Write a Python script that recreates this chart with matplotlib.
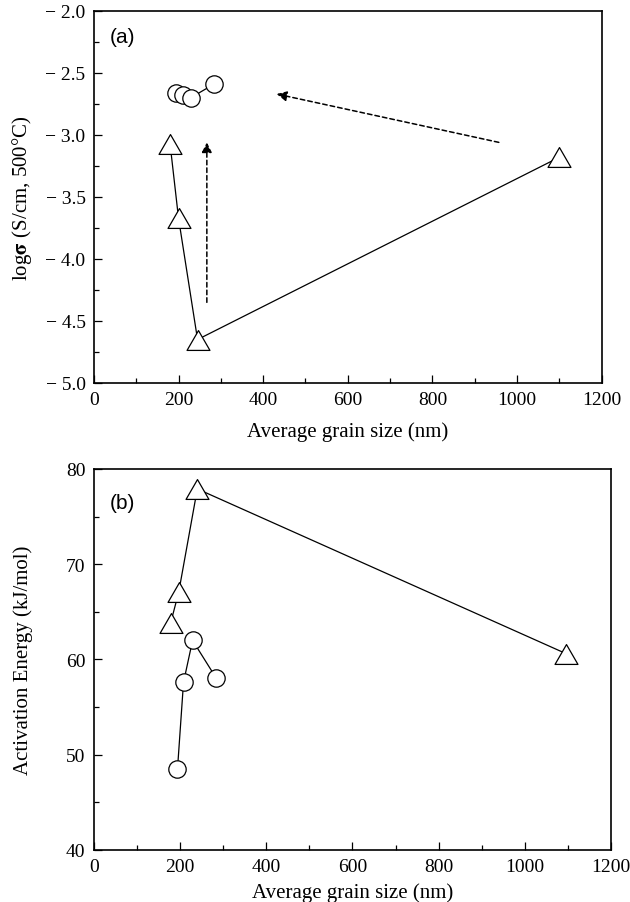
import numpy as np
import matplotlib.pyplot as plt
from matplotlib.path import Path
from matplotlib.ticker import MultipleLocator, FuncFormatter

plt.rcParams['font.family'] = ['Liberation Serif', 'DejaVu Serif']
plt.rcParams['mathtext.fontset'] = 'stix'

# panel (a): log conductivity vs grain size
tri_x_a = [180, 200, 245, 1100]
tri_y_a = [-3.07, -3.67, -4.65, -3.18]
circ_x_a = [194, 210, 229, 284]
circ_y_a = [-2.66, -2.68, -2.70, -2.59]

# panel (b): activation energy vs grain size
tri_x_b = [178, 197, 240, 1096]
tri_y_b = [63.8, 67.1, 77.9, 60.6]
circ_x_b = [194, 208, 229, 283]
circ_y_b = [48.5, 57.6, 62.0, 58.1]

fs = 14
lfs = 15
# equilateral triangle marker (closed)
tri = Path([(-1, -0.866), (1, -0.866), (0, 0.866), (-1, -0.866)],
           [Path.MOVETO, Path.LINETO, Path.LINETO, Path.CLOSEPOLY])

fig = plt.figure(figsize=(6.3, 9.03), dpi=100)
ax1 = fig.add_axes([0.149, 0.5748, 0.806, 0.412])
ax2 = fig.add_axes([0.149, 0.0576, 0.821, 0.422])

def style(ax):
    ax.set_xlim(0, 1200)
    ax.xaxis.set_major_locator(MultipleLocator(200))
    ax.xaxis.set_minor_locator(MultipleLocator(100))
    ax.tick_params(which='both', direction='in', top=False, right=False, labelsize=fs)
    ax.tick_params(which='major', length=6, width=0.9, pad=6)
    ax.tick_params(which='minor', length=3.5, width=0.9)
    for s in ax.spines.values():
        s.set_linewidth(1.2)

def draw(ax, tx, ty, cx, cy):
    ax.plot(tx, ty, '-', color='black', lw=0.9, marker=tri, ms=16.5,
            mfc='white', mec='black', mew=0.9)
    ax.plot(cx, cy, '-', color='black', lw=0.9, marker='o', ms=12.5,
            mfc='white', mec='black', mew=0.9)

# (a)
draw(ax1, tri_x_a, tri_y_a, circ_x_a, circ_y_a)
ax1.set_ylim(-5.0, -2.0)
ax1.yaxis.set_major_locator(MultipleLocator(0.5))
ax1.yaxis.set_minor_locator(MultipleLocator(0.25))
ax1.yaxis.set_major_formatter(FuncFormatter(lambda v, p: '\u2212 %.1f' % abs(v)))
style(ax1)
ax1.set_xlabel('Average grain size (nm)', fontsize=lfs, labelpad=9)
ax1.set_ylabel('log$\\mathbf{\\sigma}$ (S/cm, 500°C)', fontsize=lfs, labelpad=8)
ax1.text(0.032, 0.957, '(a)', transform=ax1.transAxes, fontsize=15,
         family='Liberation Sans', va='top')
arr = dict(arrowstyle='-|>', linestyle=(0, (3, 2)), color='black', lw=1.1,
           mutation_scale=15, shrinkA=0, shrinkB=0)
ax1.annotate('', xy=(267, -3.06), xytext=(267, -4.35), arrowprops=arr)
ax1.annotate('', xy=(432, -2.67), xytext=(957, -3.06), arrowprops=arr)

# (b)
draw(ax2, tri_x_b, tri_y_b, circ_x_b, circ_y_b)
ax2.set_ylim(40, 80)
ax2.yaxis.set_major_locator(MultipleLocator(10))
ax2.yaxis.set_minor_locator(MultipleLocator(5))
style(ax2)
ax2.set_xlabel('Average grain size (nm)', fontsize=lfs, labelpad=5)
ax2.set_ylabel('Activation Energy (kJ/mol)', fontsize=lfs, labelpad=24)
ax2.text(0.031, 0.937, '(b)', transform=ax2.transAxes, fontsize=15,
         family='Liberation Sans', va='top')

plt.savefig('out.png', dpi=100)
